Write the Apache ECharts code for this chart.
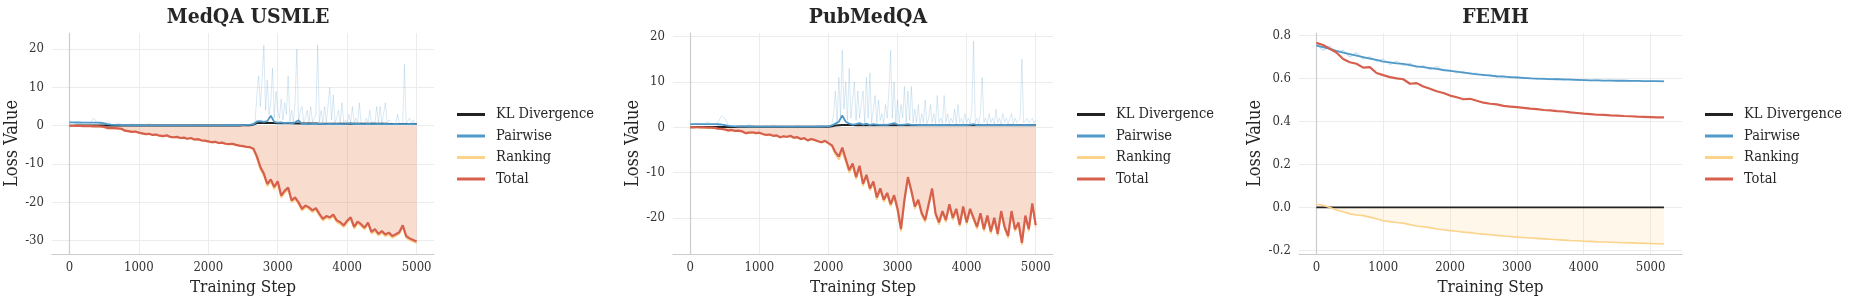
<!DOCTYPE html>
<html><head><meta charset="utf-8">
<script src="https://cdn.jsdelivr.net/npm/echarts@6/dist/echarts.min.js"></script>
<style>html,body{margin:0;padding:0;background:#fff}#c{width:1850px;height:301px}</style>
</head><body><div id="c"></div>
<script>
// ---------- DATA ----------
const titles = ['MedQA USMLE', 'PubMedQA', 'FEMH'];
const legendNames = ['KL Divergence', 'Pairwise', 'Ranking', 'Total'];
const xTickLabels = ['0', '1000', '2000', '3000', '4000', '5000'];

// MedQA USMLE, one value every 50 steps (0..5000)
const medqaTotal = [
  0, 0, -0.05, -0.05, -0.1, -0.1, -0.1, -0.15, -0.15, -0.2,
  -0.3, -0.6, -0.6, -0.65, -0.7, -0.8, -1.3, -1.4, -1.6, -1.5,
  -1.8, -2.0, -2.2, -2.1, -2.4, -2.3, -2.6, -2.7, -2.5, -2.9,
  -3.0, -2.9, -3.2, -3.1, -3.4, -3.2, -3.6, -3.5, -3.8, -3.9,
  -4.1, -4.3, -4.2, -4.5, -4.4, -4.7, -4.8, -4.7, -5.0, -5.2,
  -5.3, -5.5, -5.6, -6.0, -8.0, -10.8, -12.5, -15.2, -14.0, -16.0,
  -14.5, -18.2, -17.0, -16.1, -19.5, -18.7, -20.0, -21.7, -20.8, -21.3,
  -22.1, -21.5, -23.0, -24.3, -23.6, -23.9, -23.2, -24.7, -25.2, -26.0,
  -24.8, -23.9, -26.4, -25.0, -25.7, -26.6, -25.3, -27.7, -27.0, -28.2,
  -27.5, -28.4, -27.9, -28.8, -28.3, -27.8, -26.0, -28.8, -29.4, -29.8,
  -30.2];
const medqaRanking = [
  -0.05, -0.05, -0.1, -0.1, -0.15, -0.15, -0.15, -0.2, -0.2, -0.25,
  -0.4, -0.7, -0.7, -0.75, -0.8, -0.9, -1.4, -1.5, -1.7, -1.6,
  -1.9, -2.1, -2.3, -2.2, -2.5, -2.4, -2.7, -2.8, -2.6, -3.0,
  -3.1, -3.0, -3.3, -3.2, -3.5, -3.3, -3.7, -3.6, -3.9, -4.0,
  -4.2, -4.4, -4.3, -4.6, -4.5, -4.8, -4.9, -4.8, -5.1, -5.3,
  -5.4, -5.6, -5.7, -6.2, -8.6, -11.4, -13.1, -15.8, -14.6, -16.6,
  -15.1, -18.8, -17.6, -16.6, -20.0, -19.2, -20.5, -22.2, -21.3, -21.8,
  -22.6, -22.0, -23.5, -24.8, -24.1, -24.4, -23.7, -25.2, -25.7, -26.5,
  -25.3, -24.4, -26.9, -25.5, -26.2, -27.1, -25.8, -28.2, -27.5, -28.7,
  -28.0, -28.9, -28.4, -29.3, -28.8, -28.3, -26.5, -29.3, -29.9, -30.3,
  -30.7];
const medqaPairwise = [
  0.85, 0.85, 0.84, 0.84, 0.83, 0.83, 0.82, 0.82, 0.8, 0.78,
  0.6, 0.4, 0.3, 0.25, 0.2, 0.15, 0.15, 0.12, 0.12, 0.1,
  0.1, 0.12, 0.1, 0.1, 0.11, 0.1, 0.1, 0.12, 0.1, 0.1,
  0.1, 0.1, 0.11, 0.1, 0.1, 0.12, 0.1, 0.1, 0.1, 0.11,
  0.1, 0.1, 0.12, 0.1, 0.1, 0.11, 0.12, 0.12, 0.13, 0.15,
  0.15, 0.2, 0.25, 0.4, 1.1, 1.2, 1.0, 1.2, 2.6, 1.0,
  0.8, 0.9, 0.7, 0.8, 0.6, 0.9, 1.4, 0.5, 0.5, 0.4,
  0.5, 0.6, 0.5, 0.5, 0.4, 0.5, 0.4, 0.5, 0.4, 0.4,
  0.5, 0.7, 0.4, 0.45, 0.4, 0.4, 0.45, 0.4, 0.4, 0.45,
  0.4, 0.45, 0.4, 0.4, 0.45, 0.4, 0.4, 0.4, 0.45, 0.4,
  0.4];
const medqaKL = [
  0.02, 0.02, 0.03, 0.03, 0.04, 0.04, 0.05, 0.05, 0.05, 0.05,
  0.05, 0.05, 0.05, 0.05, 0.05, 0.05, 0.05, 0.05, 0.05, 0.05,
  0.05, 0.05, 0.06, 0.06, 0.06, 0.06, 0.06, 0.06, 0.06, 0.06,
  0.06, 0.07, 0.07, 0.07, 0.07, 0.07, 0.07, 0.07, 0.07, 0.07,
  0.07, 0.07, 0.08, 0.08, 0.08, 0.08, 0.08, 0.08, 0.08, 0.08,
  0.1, 0.12, 0.15, 0.3, 0.7, 0.75, 0.72, 0.7, 0.72, 0.7,
  0.68, 0.66, 0.65, 0.64, 0.62, 0.6, 0.6, 0.58, 0.57, 0.56,
  0.55, 0.55, 0.54, 0.53, 0.53, 0.52, 0.52, 0.51, 0.51, 0.5,
  0.5, 0.5, 0.5, 0.5, 0.5, 0.49, 0.49, 0.49, 0.49, 0.49,
  0.49, 0.49, 0.48, 0.48, 0.48, 0.48, 0.48, 0.48, 0.48, 0.48,
  0.48];
// raw (unsmoothed) pairwise: every 50 steps from 0..2600, then every 25 steps from 2650..5000
const medqaRawEarly = [
  0.9, 0.8, 0.9, 0.7, 0.8, 0.9, 0.7, 2.0, 0.8, 0.7,
  0.6, 1.2, 0.3, 0.2, 0.8, 0.3, 0.2, 0.2, 0.5, 0.2,
  0.2, 0.3, 0.2, 0.6, 0.2, 0.2, 0.3, 0.2, 0.2, 0.3,
  0.2, 0.2, 0.3, 0.2, 0.2, 0.2, 0.4, 0.2, 0.2, 0.2,
  0.2, 0.2, 0.3, 0.2, 0.2, 0.2, 0.2, 0.3, 0.2, 0.2,
  0.2, 0.3, 0.2];
const medqaRawLate = [
  0.3, 1.5, 8, 13, 5, 12, 21, 4, 12, 3,
  6, 15, 2, 9, 4, 2, 7, 1.5, 6, 3,
  13, 1.2, 4, 1, 6, 20, 1, 4, 5, 0.7,
  2, 4, 0.8, 5, 1, 0.6, 3, 21, 1, 4,
  0.8, 5, 1, 0.6, 10, 1.5, 8, 0.8, 2, 4,
  0.6, 6, 0.8, 1.5, 0.5, 3, 0.7, 5, 0.6, 2,
  0.5, 6, 0.6, 1, 0.5, 2, 0.6, 4, 0.5, 1.2,
  0.6, 5, 0.7, 5, 0.5, 1, 6, 0.6, 1.5, 2,
  0.5, 1, 0.6, 3, 0.5, 0.8, 0.6, 16, 0.6, 1,
  2, 0.5, 1.5, 0.6, 0.5];

// PubMedQA, one value every 50 steps (0..5000)
const pubmedTotal = [
  0, 0, 0, -0.05, -0.05, -0.1, -0.1, -0.15, -0.3, -0.35,
  -0.5, -0.7, -0.6, -0.8, -0.75, -0.9, -1.3, -1.2, -1.1, -1.3,
  -1.2, -1.5, -1.7, -1.6, -1.9, -1.8, -2.2, -2.0, -2.1, -1.9,
  -2.3, -2.2, -2.6, -2.4, -2.9, -2.6, -2.8, -3.1, -3.3, -3.0,
  -3.5, -4.0, -5.5, -6.5, -4.5, -7.0, -9.5, -8.0, -11.0, -8.5,
  -12.5, -10.5, -13.5, -12, -15.5, -13.5, -16, -14.5, -17, -15,
  -18, -22.5, -16, -11, -14, -17.5, -16, -19, -20.5, -17,
  -13.5, -19, -21, -18.5, -20.5, -17, -20, -18, -21.5, -17.5,
  -21, -18, -20, -22, -19, -22.5, -19.5, -23, -20, -23.5,
  -18.5, -22, -24, -18.5, -22.5, -21, -25.5, -19.5, -22.5, -16.8,
  -21.6];
const pubmedRanking = [
  -0.05, -0.05, -0.05, -0.1, -0.1, -0.15, -0.15, -0.2, -0.35, -0.4,
  -0.6, -0.8, -0.7, -0.9, -0.85, -1.0, -1.4, -1.3, -1.2, -1.4,
  -1.3, -1.6, -1.8, -1.7, -2.0, -1.9, -2.3, -2.1, -2.2, -2.0,
  -2.4, -2.3, -2.7, -2.5, -3.0, -2.7, -2.9, -3.2, -3.4, -3.1,
  -3.6, -4.3, -6.0, -7.2, -5.4, -7.6, -10.1, -8.6, -11.5, -9.0,
  -13.0, -11.0, -14.0, -12.5, -16.0, -14.0, -16.5, -15.0, -17.5, -15.5,
  -18.5, -23.0, -16.5, -11.5, -14.5, -18.0, -16.5, -19.5, -21.0, -17.5,
  -14.0, -19.5, -21.5, -19.0, -21.0, -17.5, -20.5, -18.5, -22.0, -18.0,
  -21.5, -18.5, -20.5, -22.5, -19.5, -23.0, -20.0, -23.5, -20.5, -24.0,
  -19.0, -22.5, -24.5, -19.0, -23.0, -21.5, -26.0, -20.0, -23.0, -17.3,
  -22.1];
const pubmedPairwise = [
  0.7, 0.7, 0.7, 0.7, 0.7, 0.7, 0.68, 0.68, 0.66, 0.6,
  0.45, 0.3, 0.25, 0.2, 0.2, 0.18, 0.18, 0.16, 0.16, 0.15,
  0.15, 0.15, 0.14, 0.15, 0.14, 0.15, 0.14, 0.15, 0.14, 0.15,
  0.14, 0.15, 0.14, 0.15, 0.14, 0.15, 0.15, 0.16, 0.16, 0.18,
  0.2, 0.4, 0.8, 1.2, 2.6, 1.2, 0.8, 0.6, 0.7, 0.9,
  0.6, 0.8, 0.5, 0.7, 0.6, 0.5, 0.6, 0.5, 0.7, 0.9,
  0.6, 0.5, 0.6, 0.7, 0.5, 0.5, 0.45, 0.5, 0.45, 0.5,
  0.45, 0.5, 0.45, 0.5, 0.45, 0.45, 0.5, 0.45, 0.45, 0.5,
  0.45, 0.5, 0.7, 0.45, 0.45, 0.5, 0.45, 0.45, 0.5, 0.45,
  0.45, 0.5, 0.45, 0.45, 0.5, 0.45, 0.45, 0.5, 0.45, 0.45,
  0.45];
const pubmedKL = [
  0.02, 0.02, 0.03, 0.04, 0.05, 0.06, 0.07, 0.08, 0.08, 0.08,
  0.08, 0.08, 0.08, 0.08, 0.09, 0.09, 0.09, 0.09, 0.09, 0.09,
  0.09, 0.09, 0.09, 0.1, 0.1, 0.1, 0.1, 0.1, 0.1, 0.1,
  0.1, 0.1, 0.1, 0.1, 0.1, 0.1, 0.1, 0.1, 0.1, 0.1,
  0.1, 0.2, 0.4, 0.45, 0.5, 0.5, 0.48, 0.47, 0.46, 0.45,
  0.45, 0.45, 0.45, 0.45, 0.45, 0.45, 0.45, 0.45, 0.45, 0.45,
  0.45, 0.45, 0.45, 0.45, 0.45, 0.44, 0.44, 0.44, 0.44, 0.44,
  0.44, 0.44, 0.44, 0.44, 0.44, 0.44, 0.44, 0.44, 0.44, 0.44,
  0.44, 0.44, 0.44, 0.44, 0.43, 0.43, 0.43, 0.43, 0.43, 0.43,
  0.43, 0.43, 0.43, 0.43, 0.43, 0.43, 0.43, 0.43, 0.43, 0.43,
  0.43];
// raw pairwise: every 50 steps 0..2000, then every 25 steps 2050..5000
const pubmedRawEarly = [
  0.7, 0.7, 0.9, 0.7, 0.7, 1.2, 0.8, 0.7, 1.0, 2.5,
  2.0, 0.5, 0.3, 0.2, 0.2, 0.3, 0.2, 0.6, 0.2, 0.3,
  0.2, 0.2, 0.3, 0.2, 0.5, 0.2, 0.2, 0.3, 0.2, 0.2,
  0.2, 0.4, 0.2, 0.2, 0.3, 0.2, 0.2, 0.2, 0.3, 0.2,
  0.3];
const pubmedRawLate = [
  0.5, 3, 8, 1, 11, 2, 17, 4, 10, 1.5,
  13, 2, 6, 10, 1.5, 8, 2, 5, 8, 1,
  11, 2, 12, 1, 4, 7, 1, 6, 1.5, 3,
  1, 5, 2, 8, 17, 2, 10, 1, 6, 1,
  5, 2, 9, 1, 8, 1.5, 9, 1, 4, 1,
  5, 0.8, 3, 1, 6, 0.8, 2, 5, 1, 3,
  0.8, 7, 1, 2, 0.8, 7, 1, 3, 0.8, 2,
  1, 4, 0.8, 5, 1, 2, 0.7, 3, 1, 2,
  0.7, 4, 19, 1, 2, 0.7, 3, 11, 1, 2,
  0.7, 3, 1, 2, 0.7, 4, 1, 2, 0.7, 3,
  1, 2, 0.7, 1, 3, 0.7, 2, 1, 0.7, 2,
  15, 1, 0.7, 2, 1, 0.7, 2, 0.8, 1.5];

// FEMH, one value every 100 steps (0..5200)
const femhTotal = [
  0.765, 0.755, 0.738, 0.72, 0.69, 0.675, 0.668, 0.65, 0.652, 0.625,
  0.615, 0.606, 0.6, 0.596, 0.575, 0.578, 0.562, 0.552, 0.54, 0.532,
  0.52, 0.512, 0.503, 0.505, 0.496, 0.487, 0.482, 0.479, 0.472, 0.469,
  0.466, 0.463, 0.459, 0.457, 0.453, 0.451, 0.448, 0.446, 0.442, 0.439,
  0.436, 0.434, 0.431, 0.43, 0.428, 0.427, 0.425, 0.424, 0.422, 0.421,
  0.42, 0.419, 0.419];
const femhPairwise = [
  0.752, 0.745, 0.737, 0.728, 0.72, 0.713, 0.706, 0.699, 0.692, 0.686,
  0.678, 0.674, 0.670, 0.667, 0.662, 0.656, 0.652, 0.648, 0.644, 0.639,
  0.635, 0.631, 0.627, 0.623, 0.619, 0.616, 0.613, 0.610, 0.608, 0.606,
  0.604, 0.602, 0.600, 0.599, 0.598, 0.597, 0.596, 0.595, 0.594, 0.593,
  0.592, 0.591, 0.591, 0.590, 0.590, 0.589, 0.589, 0.588, 0.588, 0.587,
  0.587, 0.587, 0.586];
const femhRawPairwise = [
  0.76, 0.73, 0.75, 0.72, 0.73, 0.70, 0.72, 0.69, 0.70, 0.68,
  0.69, 0.665, 0.68, 0.66, 0.67, 0.65, 0.66, 0.64, 0.655, 0.635,
  0.64, 0.625, 0.632, 0.62, 0.625, 0.612, 0.618, 0.606, 0.613, 0.602,
  0.607, 0.599, 0.604, 0.596, 0.601, 0.594, 0.599, 0.592, 0.597, 0.591,
  0.594, 0.589, 0.593, 0.588, 0.592, 0.587, 0.591, 0.586, 0.59, 0.585,
  0.589, 0.585, 0.588];
const femhRanking = [
  0.015, 0.01, 0.0, -0.012, -0.02, -0.03, -0.035, -0.038, -0.045, -0.053,
  -0.062, -0.066, -0.07, -0.073, -0.08, -0.086, -0.09, -0.094, -0.1, -0.104,
  -0.108, -0.111, -0.115, -0.117, -0.121, -0.124, -0.127, -0.13, -0.133, -0.135,
  -0.138, -0.14, -0.142, -0.144, -0.146, -0.148, -0.15, -0.152, -0.154, -0.155,
  -0.157, -0.158, -0.16, -0.161, -0.162, -0.163, -0.164, -0.165, -0.166, -0.167,
  -0.168, -0.169, -0.17];
const femhKL = [
  0, 0, 0, 0, 0, 0, 0, 0, 0, 0,
  0, 0, 0, 0, 0, 0, 0, 0, 0, 0,
  0, 0, 0, 0, 0, 0, 0, 0, 0, 0,
  0, 0, 0, 0, 0, 0, 0, 0, 0, 0,
  0, 0, 0, 0, 0, 0, 0, 0, 0, 0,
  0, 0, 0];

// ---------- CHART ----------
const FONT = '"DejaVu Serif Condensed","DejaVu Serif",serif';
const C = {kl: '#222222', pw: '#5099c9', rk: '#fbd38a', tot: '#d6604d'};

function pairs(vals, start, step) { return vals.map((v, i) => [start + i * step, v]); }

const grids = [
  {left: 52, top: 33, width: 382, height: 223},
  {left: 673, top: 33, width: 380, height: 223},
  {left: 1299, top: 33, width: 383, height: 223}
];
const xRanges = [[-250, 5250], [-250, 5250], [-260, 5470]];
const yRanges = [[-33.5, 24.2], [-28, 20.8], [-0.217, 0.811]];
const yStep = [10, 10, 0.2];
const yNameGap = [26, 26, 29];

function isTick(v, step) { const q = v / step; return Math.abs(q - Math.round(q)) < 1e-6; }

const xAxes = grids.map((g, i) => ({
  type: 'value', gridIndex: i, min: xRanges[i][0], max: xRanges[i][1], splitNumber: 5,
  name: 'Training Step', nameLocation: 'middle', nameGap: 22,
  nameTextStyle: {fontFamily: FONT, fontSize: 17, color: '#262626'},
  axisLine: {show: true, onZero: false, lineStyle: {color: '#cccccc', width: 1.2}},
  axisTick: {show: false},
  axisLabel: {fontFamily: FONT, fontSize: 13, color: '#333', margin: 7,
    formatter: v => isTick(v, 1000) && xTickLabels.indexOf(String(v)) >= 0 ? String(v) : ''},
  splitLine: {show: true, showMinLine: false, showMaxLine: false, lineStyle: {color: '#ececec', width: 1}}
}));
const yAxes = grids.map((g, i) => ({
  type: 'value', gridIndex: i, min: yRanges[i][0], max: yRanges[i][1], splitNumber: 5,
  name: 'Loss Value', nameLocation: 'middle', nameGap: yNameGap[i],
  nameTextStyle: {fontFamily: FONT, fontSize: 18, color: '#262626'},
  axisLine: {show: true, lineStyle: {color: '#cccccc', width: 1.2}},
  axisTick: {show: false},
  axisLabel: {fontFamily: FONT, fontSize: 13, color: '#333', margin: 8,
    formatter: v => isTick(v, yStep[i]) ? (i === 2 ? (Math.round(v * 10) / 10).toFixed(1) : String(Math.round(v))) : ''},
  splitLine: {show: true, showMinLine: false, showMaxLine: false, lineStyle: {color: '#ececec', width: 1}}
}));

function line(name, idx, data, color, width, extra) {
  return Object.assign({
    type: 'line', name: name, xAxisIndex: idx, yAxisIndex: idx, data: data,
    showSymbol: false, symbol: 'none', animation: false, silent: true,
    lineStyle: {color: color, width: width}, itemStyle: {color: color}
  }, extra || {});
}
const rawStyle = {color: 'rgba(67,147,195,0.25)', width: 0.8};
const fillTot = {color: 'rgba(214,96,77,0.25)', origin: 'auto'};
const fillRk = {color: 'rgba(252,200,120,0.22)', origin: 'auto'};

const series = [
  // MedQA
  line('raw1a', 0, pairs(medqaRawEarly, 0, 50), rawStyle.color, rawStyle.width),
  line('raw1b', 0, pairs(medqaRawLate, 2650, 25), rawStyle.color, rawStyle.width),
  line('KL Divergence', 0, pairs(medqaKL, 0, 50), C.kl, 2),
  line('Pairwise', 0, pairs(medqaPairwise, 0, 50), C.pw, 1.8),
  line('Ranking', 0, pairs(medqaRanking, 0, 50), C.rk, 1.6, {areaStyle: fillRk}),
  line('Total', 0, pairs(medqaTotal, 0, 50), C.tot, 2.2, {areaStyle: fillTot}),
  // PubMedQA
  line('raw2a', 1, pairs(pubmedRawEarly, 0, 50), rawStyle.color, rawStyle.width),
  line('raw2b', 1, pairs(pubmedRawLate, 2050, 25), rawStyle.color, rawStyle.width),
  line('KL Divergence', 1, pairs(pubmedKL, 0, 50), C.kl, 2),
  line('Pairwise', 1, pairs(pubmedPairwise, 0, 50), C.pw, 1.8),
  line('Ranking', 1, pairs(pubmedRanking, 0, 50), C.rk, 1.6, {areaStyle: fillRk}),
  line('Total', 1, pairs(pubmedTotal, 0, 50), C.tot, 2.2, {areaStyle: fillTot}),
  // FEMH
  line('raw3', 2, pairs(femhRawPairwise, 0, 100), 'rgba(120,185,225,0.45)', 1.2),
  line('KL Divergence', 2, pairs(femhKL, 0, 100), C.kl, 1.8),
  line('Pairwise', 2, pairs(femhPairwise, 0, 100), C.pw, 1.8),
  line('Ranking', 2, pairs(femhRanking, 0, 100), C.rk, 1.6, {areaStyle: fillRk}),
  line('Total', 2, pairs(femhTotal, 0, 100), C.tot, 2.2)
];

const legendLeft = [452, 1072, 1700];
const legends = legendLeft.map(l => ({
  data: legendNames, orient: 'vertical', left: l, top: 102,
  icon: 'rect', itemWidth: 28, itemHeight: 3, itemGap: 6.5,
  selectedMode: false,
  textStyle: {fontFamily: FONT, fontSize: 14.5, color: '#262626', padding: [0, 0, 0, 6], lineHeight: 14}
}));

const titleCenters = grids.map(g => g.left + g.width / 2);
const titleOpts = titles.map((t, i) => ({
  text: t, left: titleCenters[i], top: 2, textAlign: 'center',
  textStyle: {fontFamily: FONT, fontSize: 21, fontWeight: 'bold', color: '#262626'}
}));

const chart = echarts.init(document.getElementById('c'), null, {renderer: 'canvas'});
chart.setOption({
  backgroundColor: '#ffffff',
  animation: false,
  title: titleOpts,
  legend: legends,
  grid: grids,
  xAxis: xAxes,
  yAxis: yAxes,
  series: series
});
</script></body></html>
